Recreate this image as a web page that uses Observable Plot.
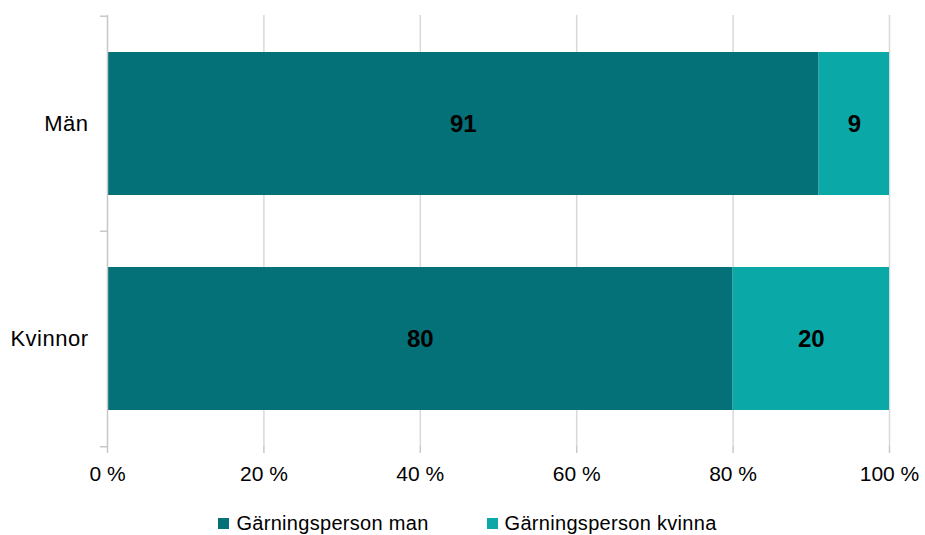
<!DOCTYPE html>
<html>
<head>
<meta charset="utf-8">
<script src="https://cdn.jsdelivr.net/npm/d3@7"></script>
<script src="https://cdn.jsdelivr.net/npm/@observablehq/plot@0.6"></script>
<style>
  body { margin: 0; background: #fff; font-family: "Liberation Sans", Arial, sans-serif; }
  #legend { display: flex; justify-content: center; gap: 58px; font-size: 20px; letter-spacing: 0.3px; color: #000; height: 56px; align-items: center; padding-left: 10px; }
  #legend span.sw { display: inline-block; width: 11px; height: 11px; margin-right: 7px; }
  #legend .item { display: flex; align-items: center; }
  g[aria-label="y-axis tick label"] text { letter-spacing: 0.5px; }
</style>
</head>
<body>
<div id="chart"></div>
<div id="legend"></div>
<script>
const categories = ["Män", "Kvinnor"];
const seriesNames = ["Gärningsperson man", "Gärningsperson kvinna"];
const valuesMan = [91, 80];
const valuesKvinna = [9, 20];
const xTicks = [0, 20, 40, 60, 80, 100];
const colors = ["#037177", "#0ba8a8"];

const data = [];
categories.forEach((c, i) => {
  data.push({cat: c, series: seriesNames[0], value: valuesMan[i]});
  data.push({cat: c, series: seriesNames[1], value: valuesKvinna[i]});
});

const W = 925, H = 495;
const mL = 107, mR = 36, mT = 15, mB = 49;
const step = (H - mT - mB) / categories.length;
const fontFam = "'Liberation Sans', Arial, sans-serif";

const plot = Plot.plot({
  width: W, height: H,
  marginLeft: mL, marginRight: mR, marginTop: mT, marginBottom: mB,
  style: {fontFamily: fontFam, background: "#fff"},
  x: {domain: [0, 100], axis: null},
  y: {domain: categories, paddingInner: 0.336, paddingOuter: 0.168, axis: null},
  color: {domain: seriesNames, range: colors},
  marks: [
    Plot.ruleX(xTicks.slice(1), {stroke: "#d9d9d9", strokeWidth: 1.5}),
    Plot.barX(data, Plot.stackX({y: "cat", x: "value", fill: "series", order: seriesNames})),
    Plot.text(data, Plot.stackX({y: "cat", x: "value", z: "series", order: seriesNames, text: d => String(d.value), fontSize: 24, fontWeight: "bold", fill: "#000"})),
    Plot.ruleX([0], {stroke: "#c8c8c8", strokeWidth: 1.5}),
    Plot.ruleY([0], {frameAnchor: "bottom", stroke: "#c8c8c8", strokeWidth: 1.5}),
    Plot.axisX(xTicks, {label: null, tickSize: 7, stroke: "#c8c8c8", strokeWidth: 1.5, tickFormat: d => d + " %", fontSize: 21, fill: "#000", tickPadding: 13}),
    Plot.axisY(categories, {label: null, tickSize: 7, stroke: "#c8c8c8", strokeWidth: 1.5, tickFormat: null, dy: -step / 2}),
    Plot.axisY(categories.slice(-1), {label: null, tickSize: 7, stroke: "#c8c8c8", strokeWidth: 1.5, tickFormat: null, dy: step / 2}),
    Plot.axisY(categories, {label: null, tickSize: 0, tickPadding: 19, fontSize: 22, fill: "#000"})
  ]
});
document.getElementById("chart").appendChild(plot);

const leg = document.getElementById("legend");
seriesNames.forEach((s, i) => {
  const it = document.createElement("div");
  it.className = "item";
  const sw = document.createElement("span");
  sw.className = "sw";
  sw.style.background = colors[i];
  it.appendChild(sw);
  it.appendChild(document.createTextNode(s));
  leg.appendChild(it);
});
</script>
</body>
</html>
